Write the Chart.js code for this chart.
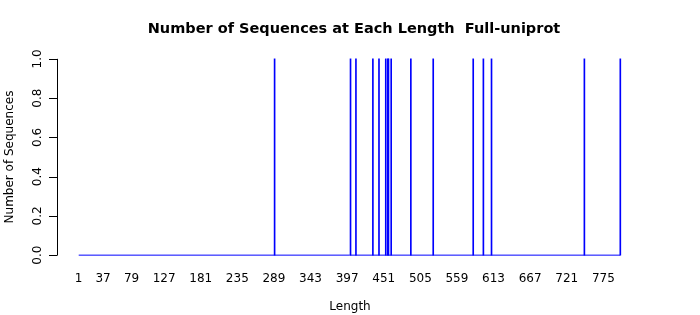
<!DOCTYPE html>
<html>
<head>
<meta charset="utf-8">
<script src="https://cdn.jsdelivr.net/npm/chart.js@4"></script>
<style>
  body { margin: 0; background: #fff; }
  #box { width: 700px; height: 315px; }
</style>
</head>
<body>
<div id="box"><canvas id="grafico"></canvas></div>
<script>
// dados
const comprimentos = [290, 402, 410, 435, 444, 454, 457, 458, 462, 491, 524, 583, 598, 610, 747, 800]
const contagens = [1, 1, 1, 1, 1, 1, 1, 1, 1, 1, 1, 1, 1, 1, 1, 1]
const ticksX = [1, 37, 79, 127, 181, 235, 289, 343, 397, 451, 505, 559, 613, 667, 721, 775]
const ticksY = [0, 0.2, 0.4, 0.6, 0.8, 1.0]
const faixaX = [1, 800]
const titulo = 'Number of Sequences at Each Length  Full-uniprot'

const fonte = 'DejaVu Sans, sans-serif'

// eixos no estilo R, desenhados à mão
const eixosR = {
    id: 'eixosR',
    afterDraw(chart) {
        const ctx = chart.ctx
        const x = chart.scales.x
        const y = chart.scales.y
        const esq = chart.chartArea.left
        ctx.save()
        ctx.strokeStyle = '#000'
        ctx.lineWidth = 1
        ctx.beginPath()
        ctx.moveTo(esq + 0.5, y.getPixelForValue(ticksY[0]))
        ctx.lineTo(esq + 0.5, y.getPixelForValue(ticksY[ticksY.length - 1]))
        ticksY.forEach(v => {
            const py = Math.round(y.getPixelForValue(v)) + 0.5
            ctx.moveTo(esq - 8, py)
            ctx.lineTo(esq + 0.5, py)
        })
        ctx.stroke()

        ctx.fillStyle = '#000'
        ctx.font = '12px ' + fonte
        ctx.textAlign = 'center'
        ctx.textBaseline = 'middle'
        ticksY.forEach(v => {
            ctx.save()
            ctx.translate(38, y.getPixelForValue(v))
            ctx.rotate(-Math.PI / 2)
            ctx.fillText(v.toFixed(1), 0, 0)
            ctx.restore()
        })
        ticksX.forEach(v => {
            ctx.fillText(String(v), x.getPixelForValue(v), 279)
        })
        ctx.fillText('Length', 350, 307)

        ctx.save()
        ctx.translate(10, 157)
        ctx.rotate(-Math.PI / 2)
        ctx.fillText('Number of Sequences', 0, 0)
        ctx.restore()

        ctx.font = 'bold 14.5px ' + fonte
        ctx.fillText(titulo, 354, 29)
        ctx.restore()
    }
}

const ctx = document.getElementById('grafico').getContext('2d')
const chart = new Chart(ctx, {
    data: {
        datasets: [{
            type: 'bar',
            data: comprimentos.map((c, i) => ({ x: c, y: contagens[i] })),
            backgroundColor: '#0000ff',
            barThickness: 1,
            borderWidth: 0
        }, {
            type: 'line',
            data: faixaX.map(c => ({ x: c, y: 0 })),
            borderColor: '#0000ff',
            borderWidth: 1,
            pointRadius: 0
        }]
    },
    options: {
        responsive: true,
        maintainAspectRatio: false,
        animation: false,
        devicePixelRatio: 1,
        layout: { padding: { left: 57, right: 58, top: 51, bottom: 52 } },
        plugins: { legend: { display: false }, tooltip: { enabled: false } },
        scales: {
            x: { type: 'linear', min: -31, max: 832, offset: false, grid: { offset: false }, display: false },
            y: { type: 'linear', min: -0.04, max: 1.04, display: false }
        }
    },
    plugins: [eixosR]
})
</script>
</body>
</html>
